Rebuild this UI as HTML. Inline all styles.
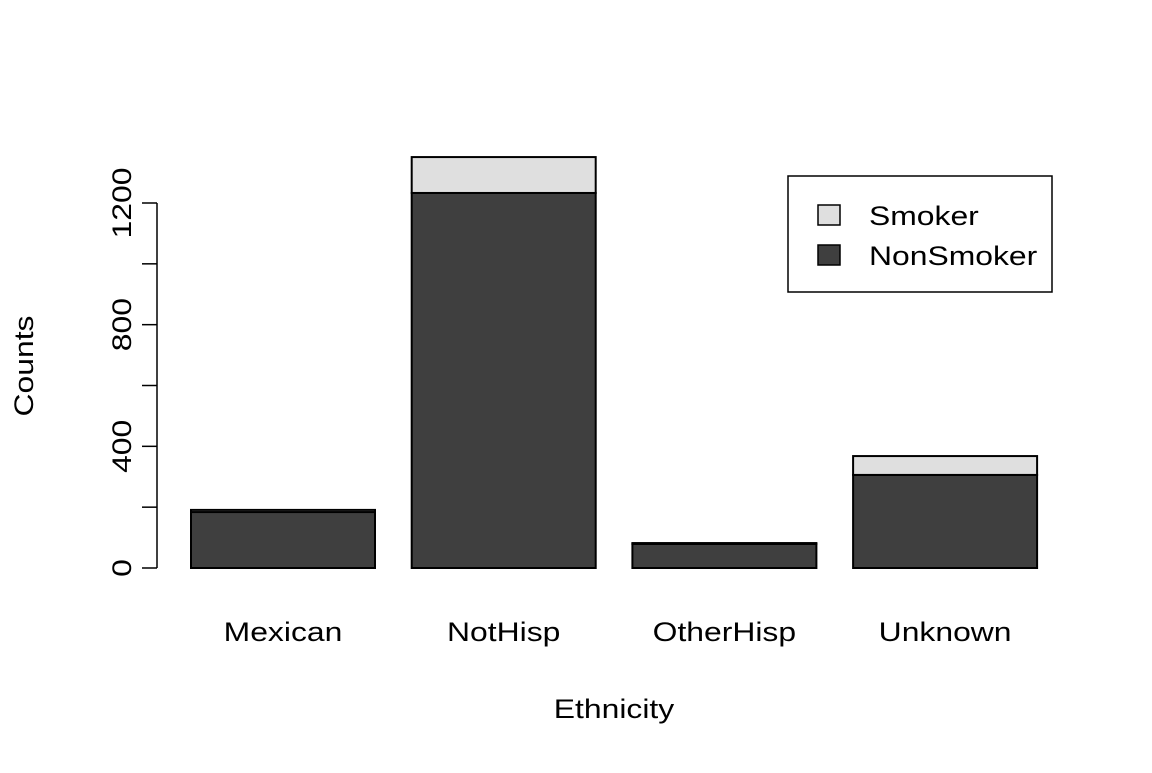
<!DOCTYPE html>
<html><head><style>body{margin:0;background:#fff}svg{font-family:"Liberation Sans",Arial,sans-serif}</style></head>
<body>
<svg id="c" width="1152" height="768"></svg>
<script>
const categories=["Mexican","NotHisp","OtherHisp","Unknown"];
const nonSmoker=[184,1233,79,306];
const smoker=[7,118,3,62];
const yTicks=[0,400,800,1200];
const ns="http://www.w3.org/2000/svg";
const svg=document.getElementById('c');
function y(v){return 568-v*(365/1200);}
function xl(i){return 191+i*220.7;}
const bw=184;
function mk(t,a,p){const e=document.createElementNS(ns,t);for(const k in a)e.setAttribute(k,a[k]);if(p!==undefined)e.textContent=String(p);svg.appendChild(e);
 if(t==='text'){const L=e.getComputedTextLength();e.setAttribute('textLength',L*1.18);e.setAttribute('lengthAdjust','spacingAndGlyphs');}
 return e;}
categories.forEach((c,i)=>{
 let r=mk('rect',{x:xl(i),y:y(nonSmoker[i]),width:bw,height:y(0)-y(nonSmoker[i]),fill:'#3f3f3f',stroke:'#000','stroke-width':2});
 
 
 let s=mk('rect',{x:xl(i),y:y(nonSmoker[i]+smoker[i]),width:bw,height:y(nonSmoker[i])-y(nonSmoker[i]+smoker[i]),fill:'#dfdfdf',stroke:'#000','stroke-width':2});
 
 
 let t=mk('text',{x:xl(i)+bw/2,y:641,'text-anchor':'middle','font-size':27},c);
 
 
});
let ax=mk('line',{x1:157,x2:157,y1:y(0),y2:y(1200),stroke:'#000','stroke-width':1.5});


for(let v=0;v<=1200;v+=200){mk('line',{x1:142,x2:157,y1:y(v),y2:y(v),stroke:'#000','stroke-width':1.5});}
yTicks.forEach(v=>{let t=mk('text',{transform:`translate(131,${y(v)}) rotate(-90)`,'text-anchor':'middle','font-size':27},v);
 
 });
let yt=mk('text',{transform:'translate(33,366) rotate(-90)','text-anchor':'middle','font-size':27},'Counts');


let xt=mk('text',{x:614,y:718,'text-anchor':'middle','font-size':27},'Ethnicity');


let lb=mk('rect',{x:788,y:176,width:264,height:116,fill:'none',stroke:'#000','stroke-width':1.5});


[['Smoker','#dfdfdf',215],['NonSmoker','#3f3f3f',255]].forEach(([n,f,yy])=>{
 let r=mk('rect',{x:818,y:yy-10,width:22,height:20,fill:f,stroke:'#000','stroke-width':1.5});
 
 
 let t=mk('text',{x:869,y:yy+10,'font-size':27},n);
 
 
});
</script>
</body></html>
